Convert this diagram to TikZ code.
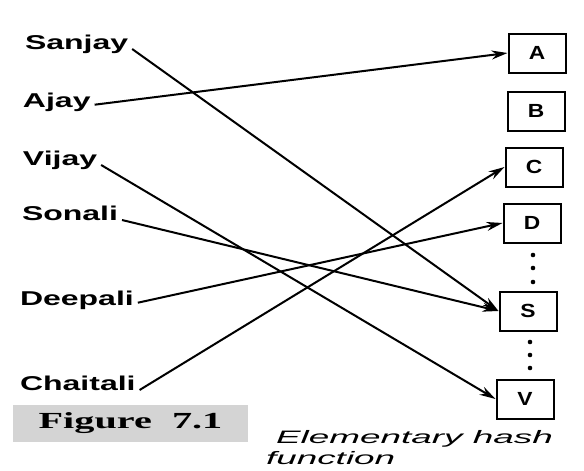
\documentclass[tikz,border=0pt]{standalone}
\usepackage{fontspec}
\setmainfont{Liberation Serif}
\setsansfont{Liberation Sans}
\usetikzlibrary{arrows.meta,positioning}

\newcommand{\hwide}[2]{\scalebox{#1}[1]{#2}}

\begin{document}
\begin{tikzpicture}
[
	              x = 1pt,
	              y = -1pt,
	             >= {Stealth[length=16pt,width=9pt]},
	     line width = 2pt,
	  person/.style = { font=\sffamily\bfseries\fontsize{20}{22}\selectfont, anchor=base west, inner sep=0pt, outer xsep=4pt },
	    slot/.style = { draw=black, rectangle, minimum width=57pt, minimum height=39pt, inner sep=0pt, font=\sffamily\bfseries\fontsize{19}{21}\selectfont },
	  figtag/.style = { fill=black!17, minimum width=235pt, minimum height=37pt, inner sep=0pt, font=\rmfamily\bfseries\fontsize{23}{25}\selectfont },
	 figtext/.style = { anchor=base west, inner sep=0pt, font=\sffamily\itshape\fontsize{18}{20}\selectfont }
]
	\useasboundingbox (0,0) rectangle (584,471);

	% keys
	% nodes
	\node (Sanjay)   at (21,49)  [person] {\hwide{1.6}{Sanjay}};
	\node (Ajay)     at (19,107) [person] {\hwide{1.6}{Ajay}};
	\node (Vijay)    at (19,165) [person] {\hwide{1.6}{Vijay}};
	\node (Sonali)   at (18,220) [person] {\hwide{1.6}{Sonali}};
	\node (Deepali)  at (16,305) [person] {\hwide{1.6}{Deepali}};
	\node (Chaitali) at (16,390) [person] {\hwide{1.6}{Chaitali}};

	% table
	% nodes
	\node (A) at (537,53)  [slot] {\hwide{1.2}{A}};
	\node (B) at (536,111) [slot] {\hwide{1.2}{B}};
	\node (C) at (534,167) [slot] {\hwide{1.2}{C}};
	\node (D) at (532,223) [slot] {\hwide{1.2}{D}};
	\node (S) at (528,311) [slot] {\hwide{1.2}{S}};
	\node (V) at (525,399) [slot] {\hwide{1.2}{V}};

	% gaps
	\foreach \y in {255,268,282} \fill (533,\y) circle (2.3pt);
	\foreach \y in {342,355,368} \fill (530,\y) circle (2.3pt);

	% edges
	\draw [->] (Sanjay.base east) -- (S.west);
	\draw [->] (Ajay.mid east) -- (A.west);
	\draw [->] (Vijay.base east) -- (V.west);
	\draw [->] (Sonali.base east) -- (S.west);
	\draw [->] (Deepali.mid east) -- (D.west);
	\draw [->] (Chaitali.base east) -- (C.west);

	% caption
	\node (Fig)  at (130.5,423.5) [figtag]  {\hwide{1.75}{Figure\ \ 7.1}};
	\node (Cap)  at (275,443)     [figtext] {\hwide{2.05}{Elementary\ hash}};
	\node (Cap2) at (265,464)     [figtext] {\hwide{2.05}{function}};
\end{tikzpicture}
\end{document}
